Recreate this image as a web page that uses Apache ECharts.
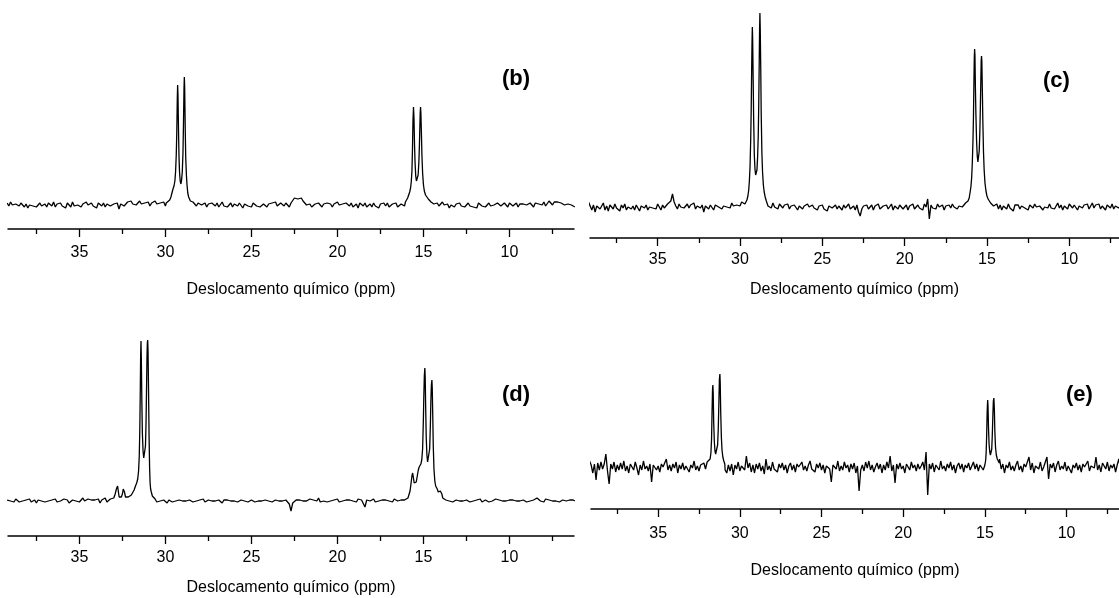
<!DOCTYPE html>
<html><head><meta charset="utf-8">
<script src="https://cdn.jsdelivr.net/npm/echarts@6/dist/echarts.min.js"></script>
<style>html,body{margin:0;padding:0;background:#fff}#c{width:1119px;height:598px}</style>
</head><body><div id="c"></div>
<script>
const FONT = 'Liberation Sans, Arial, Helvetica, sans-serif';
const majorTicks = [35, 30, 25, 20, 15, 10];
const minorTicks = [37.5, 32.5, 27.5, 22.5, 17.5, 12.5, 7.5];
const axisTitle = 'Deslocamento químico (ppm)';
const panelLabels = ['(b)', '(c)', '(d)', '(e)'];

// baseline noise sampled every 0.1 ppm from 39.2 down to 6.2 (intensity, arbitrary units)
const noiseStart = 39.2, noiseStep = 0.1;
const noiseB = [
 2,-1,3,0,-2,1,3,-1,2,0, -2,1,-3,0,2,-1,1,-2,0,2, -1,-3,1,-2,2,0,-1,3,-2,1, 0,2,-1,1,-3,2,0,-2,3,-1,
 1,0,2,-2,1,-1,3,0,-2,2, -1,1,-3,2,0,-1,2,-2,1,3, -1,-2,1,0,2,-4,1,2,-1,0, 3,2,4,1,3,0,2,4,1,3,
 2,1,3,-1,2,0,4,1,-1,2, 0,3,-1,2,1,2,3,5,8,12, 2,-1,1,0,2,-1,1,0,3,1, -1,2,3,0,-1,2,-2,1,0,2,
 1,-1,2,-2,0,3,-1,1,-2,0, 2,-2,1,0,-1,2,0,-3,1,-1, -1,1,-2,2,0,-1,1,-2,0,1, 0,-2,1,-1,2,0,3,-1,1,2,
 0,-1,2,1,-2,2,4,7,9,6, 5,7,4,2,0,-1,1,-2,0,1, -1,2,0,-2,1,-1,2,0,1,-2, 1,-1,3,0,-2,1,-1,2,0,-1,
 2,-2,0,1,-3,2,0,-1,2,-2, 0,1,-2,2,-1,0,-3,1,0,2, -1,2,-2,0,1,-1,2,-2,0,1, 1,-1,2,0,1,-1,2,0,1,0,
 1,0,2,-1,1,0,2,3,1,2, 2,-1,1,3,0,-2,1,-3,0,1, -2,1,0,2,-1,1,-2,0,2,-1, 1,-2,0,-3,2,0,-1,1,-2,0,
 2,-1,1,0,-2,2,0,-1,1,2, 0,-2,2,1,-1,0,2,-2,1,0, 1,3,0,-1,2,1,-2,2,0,1, 2,0,3,-1,1,4,2,0,3,1,
 3,1,2,4,0,2,1,3,0,2, -2];
const noiseC = [
 5,7,-3,2,-5,1,3,-2,0,4, -3,1,-4,2,0,-2,3,-1,1,-4, 2,-1,3,-3,0,2,-2,1,-3,2, 0,-4,1,3,-1,2,-3,0,2,-1,
 1,-2,3,0,-3,2,-1,0,3,1, 6,13,5,1,-2,3,0,2,-1,1, 3,-1,2,0,4,-2,1,3,-1,2, -5,1,3,-2,2,0,-3,2,4,0,
 2,-2,1,3,0,2,-1,4,1,3, 2,4,1,5,3,4,2,1,2,3, 1,0,-1,2,0,1,-1,2,-2,1, 3,-1,4,0,2,-2,3,1,-1,2,
 0,3,-2,1,-1,2,0,-3,1,2, -2,1,-1,3,0,-2,2,-1,1,-3, 1,-1,2,-2,0,-4,1,3,-1,0, 2,-2,1,0,-3,2,-1,1,3,-2,
 0,1,-3,2,-5,-9,-2,1,-1,2, -2,0,2,-3,1,-1,3,-2,0,1, -1,2,-2,0,3,-3,1,0,-2,2, 1,-2,0,2,-3,1,-1,3,-2,0,
 2,-1,1,-3,3,0,8,-12,2,-1, 1,-2,3,0,-1,2,-3,1,0,2, -1,3,0,2,-2,1,3,0,2,4, 3,5,2,1,0,2,1,0,1,2,
 1,0,2,1,0,2,1,-1,3,-2, 2,-3,1,0,-2,3,-1,1,-4,2, 0,2,-2,1,3,-1,0,-3,2,1, -1,3,0,-2,1,2,-3,0,2,-1,
 3,-1,1,-2,0,4,-1,2,-3,1, 0,-2,3,1,-1,2,0,-3,1,2, -1,2,0,3,-2,1,4,-1,2,0, 3,-2,1,0,-3,2,1,-1,3,-2,
 1,2,-1,0,3,-2,1,0,2,-1, 1];
const noiseD = [
 1,2,0,1,-1,2,0,-1,1,0, -1,1,0,2,-1,0,1,-2,1,0, 0,1,-1,1,0,-2,1,0,2,-1, 1,0,-1,2,0,1,-2,0,1,-1,
 0,2,-1,1,3,0,-1,2,0,1, -1,1,0,2,-2,1,0,3,-1,1, 2,0,1,0,1,0,1,0,1,0, 1,0,1,0,1,0,1,0,1,0,
 1,0,1,0,1,0,1,-1,1,0, -1,1,0,-2,1,0,-1,1,0,-1, 1,-1,0,2,0,-1,1,0,-1,1, 0,-1,1,0,2,-1,0,1,-1,0,
 1,0,-1,1,0,-2,1,0,1,-1, 0,1,0,2,-1,0,1,-1,0,1, -1,0,1,0,-1,1,0,2,0,-1, 1,3,0,1,-1,0,1,-1,0,1,
 0,-1,1,0,-3,-10,-2,0,1,0, 1,-1,0,1,0,-1,2,0,1,-1, 0,3,-1,1,0,2,-1,1,0,-1, 1,0,2,-1,1,0,-2,1,0,1,
 2,0,1,-1,2,0,1,-1,-6,1, 2,0,1,2,-1,1,0,2,1,0, 1,2,0,1,-1,2,1,0,2,1, 2,1,2,1,0,1,2,1,0,1,
 1,0,1,2,1,0,1,2,1,0, 1,2,1,0,1,1,-1,0,1,-1, 0,1,-1,0,2,0,-1,1,0,-1, 1,0,-1,1,0,2,-1,0,1,0,
 -1,1,0,-1,2,0,1,-1,0,1, 0,-1,1,0,1,-1,0,2,0,-1, 1,0,-1,1,0,2,1,0,3,1, 0,1,-1,2,0,1,-1,0,1,0,
 1,-1,0,1,2,0,-1,1,0,1, 0];
const noiseE = [
 6,2,-6,3,-13,4,-3,5,-2,3, 13,-4,-17,3,-2,5,-5,2,-3,4, -2,6,-4,1,-6,3,0,-3,5,-1, -8,2,-3,6,-2,1,-4,3,-15,2,
 4,-3,1,-5,3,0,-2,8,-3,2, -4,3,-1,5,-6,2,-2,4,-3,1, 3,-5,2,-1,6,-3,1,-4,2,0, 4,-2,5,1,0,1,0,1,0,1,
 0,1,0,-3,-6,2,-4,3,-8,2, -2,5,-4,1,3,-3,11,-1,4,-5, 2,-6,3,-2,4,-4,1,-7,8,-3, 1,-4,5,-2,0,-5,3,-1,4,-3,
 2,-6,1,4,-3,2,-5,3,0,-2, 5,-3,1,-4,2,6,-2,0,-5,3, -1,4,-3,2,-6,1,3,-2,-15,2, 4,-2,6,-4,1,-3,5,-1,2,-5,
 3,-2,4,-6,1,-24,-3,2,-4,5, -1,6,-3,2,-5,0,4,-2,3,-6, 2,-3,5,-1,11,-4,2,-16,3,-2, 4,-2,1,-6,3,0,-3,5,-1,2,
 -4,3,-2,1,5,-3,15,-28,3,-2, 4,-5,2,0,-3,6,-2,1,-4,3, -1,5,-3,2,-6,1,4,-2,3,-5, 2,-1,4,-3,1,5,-2,3,-4,2,
 1,-3,2,0,1,0,1,0,1,0, 0,8,-2,3,-6,2,-1,5,-3,1, -4,2,6,-3,1,-5,3,0,-2,10, -3,4,-6,1,3,-2,5,-4,0,2,
 10,-12,3,-1,4,-5,2,6,-3,1, -2,5,-4,1,3,-6,2,-1,4,-3, 2,-5,3,0,-2,6,-4,1,3,-1, 10,-3,2,-5,4,1,-2,5,-4,2,
 -1,3,-5,2,8,-2,4,-3,1,5, 2];

// resonance regions: [ppm, intensity], ordered from high to low ppm
const peaksB1 = [[29.95,2],[29.85,3],[29.75,5],[29.68,8],[29.62,12],[29.56,16],[29.50,19],[29.45,24],[29.41,33],[29.37,50],[29.34,72],[29.31,106],[29.29,120],[29.27,110],[29.24,76],[29.21,48],[29.18,33],[29.14,24],[29.10,21],[29.06,25],[29.02,33],[28.98,52],[28.95,81],[28.92,116],[28.90,128],[28.88,117],[28.85,78],[28.82,48],[28.78,30],[28.74,19],[28.70,12],[28.65,8],[28.60,6],[28.55,4],[28.50,3]];
const peaksB2 = [[16.05,3],[15.98,5],[15.92,7],[15.86,10],[15.80,13],[15.75,17],[15.71,23],[15.67,34],[15.64,55],[15.61,84],[15.58,98],[15.55,86],[15.52,60],[15.49,43],[15.45,29],[15.41,24],[15.38,25],[15.35,26],[15.31,30],[15.27,42],[15.24,57],[15.21,78],[15.19,92],[15.17,98],[15.15,92],[15.12,72],[15.09,50],[15.05,32],[15.00,20],[14.95,14],[14.88,10],[14.80,8],[14.72,6],[14.64,4],[14.56,3]];
const peaksC1 = [[29.70,3],[29.65,4],[29.58,7],[29.52,11],[29.47,17],[29.43,26],[29.39,40],[29.35,67],[29.32,96],[29.29,138],[29.27,164],[29.25,180],[29.23,167],[29.20,128],[29.17,88],[29.13,52],[29.09,38],[29.05,32],[29.01,31],[28.97,37],[28.93,50],[28.89,72],[28.86,104],[28.83,148],[28.81,178],[28.79,194],[28.77,178],[28.74,140],[28.71,92],[28.67,54],[28.63,35],[28.58,22],[28.53,15],[28.47,10],[28.40,6]];
const peaksC2 = [[16.15,6],[16.08,9],[16.02,15],[15.97,21],[15.93,29],[15.89,44],[15.85,66],[15.82,90],[15.79,127],[15.77,148],[15.75,158],[15.73,152],[15.70,118],[15.67,92],[15.63,66],[15.59,51],[15.55,45],[15.51,47],[15.47,56],[15.43,76],[15.40,100],[15.37,128],[15.35,146],[15.33,151],[15.31,146],[15.28,117],[15.25,86],[15.21,55],[15.17,37],[15.12,24],[15.06,16],[15.00,11],[14.93,8],[14.85,6],[14.78,4]];
const peaksD1 = [[33.10,1],[33.00,3],[32.92,7],[32.85,12],[32.78,15],[32.74,10],[32.69,4],[32.63,3],[32.56,4],[32.50,7],[32.45,12],[32.42,14],[32.38,9],[32.32,4],[32.25,3],[32.16,4],[32.06,5],[31.98,6],[31.90,8],[31.82,11],[31.74,15],[31.67,18],[31.61,22],[31.56,30],[31.52,45],[31.49,70],[31.46,112],[31.44,145],[31.42,160],[31.40,142],[31.37,100],[31.34,68],[31.30,50],[31.26,43],[31.23,41],[31.20,44],[31.16,55],[31.13,75],[31.10,108],[31.07,145],[31.05,158],[31.03,161],[31.01,150],[30.98,110],[30.95,65],[30.92,34],[30.89,18],[30.86,12],[30.82,9],[30.76,5],[30.68,3],[30.60,2]];
const peaksD2 = [[16.00,2],[15.90,3],[15.84,5],[15.78,10],[15.72,18],[15.67,25],[15.63,28],[15.59,24],[15.54,18],[15.48,16],[15.42,19],[15.36,25],[15.30,31],[15.25,34],[15.20,36],[15.15,37],[15.10,41],[15.05,52],[15.01,78],[14.98,104],[14.95,125],[14.92,133],[14.90,124],[14.87,92],[14.84,64],[14.80,46],[14.76,39],[14.72,37],[14.68,40],[14.64,52],[14.60,75],[14.57,100],[14.54,116],[14.51,121],[14.49,113],[14.46,85],[14.43,55],[14.39,32],[14.34,20],[14.29,15],[14.25,14],[14.20,12],[14.14,9],[14.08,8],[14.02,10],[13.97,11],[13.93,7],[13.88,3],[13.80,1]];
const peaksE1 = [[31.95,3],[31.88,5],[31.82,8],[31.77,14],[31.73,28],[31.70,55],[31.67,78],[31.65,82],[31.63,74],[31.60,45],[31.56,25],[31.52,16],[31.48,13],[31.44,12],[31.40,15],[31.36,22],[31.32,38],[31.28,66],[31.25,88],[31.22,93],[31.20,84],[31.17,55],[31.13,30],[31.09,17],[31.04,10],[30.98,6],[30.92,3]];
const peaksE2 = [[14.98,3],[14.95,7],[14.92,15],[14.89,32],[14.86,55],[14.83,67],[14.81,62],[14.78,40],[14.74,22],[14.70,15],[14.66,12],[14.62,13],[14.58,18],[14.55,30],[14.51,52],[14.48,66],[14.45,69],[14.42,58],[14.39,36],[14.35,20],[14.30,12],[14.24,8],[14.18,6],[14.12,4]];

function buildSpectrum(noise, clusters) {
  const pts = [];
  noise.forEach((v, i) => {
    const x = +(noiseStart - i * noiseStep).toFixed(2);
    const inside = clusters.some(c => x <= c[0][0] && x >= c[c.length - 1][0]);
    if (!inside) pts.push([x, v]);
  });
  clusters.forEach(c => c.forEach(p => pts.push(p)));
  pts.sort((a, b) => b[0] - a[0]);
  return pts;
}

const spectra = [
  buildSpectrum(noiseB, [peaksB1, peaksB2]),
  buildSpectrum(noiseC, [peaksC1, peaksC2]),
  buildSpectrum(noiseD, [peaksD1, peaksD2]),
  buildSpectrum(noiseE, [peaksE1, peaksE2])
];

// layout per panel
const layout = [
  {grid: {left: 8, width: 566, top: 60, height: 169}, x: [6.25, 39.15], y: [-24, 145], margin: 16, nameGap: 53, lab: [502, 68]},
  {grid: {left: 590, width: 529, top: 0, height: 238}, x: [6.98, 39.11], y: [-31, 207], margin: 14, nameGap: 44, lab: [1043, 70]},
  {grid: {left: 8, width: 566, top: 300, height: 236}, x: [6.25, 39.15], y: [-35, 201], margin: 14, nameGap: 44, lab: [502, 384]},
  {grid: {left: 591, width: 528, top: 300, height: 209}, x: [6.79, 39.11], y: [-42, 167], margin: 17, nameGap: 54, lab: [1066, 384]}
];

const grids = [], xAxes = [], yAxes = [], series = [], titles = [];
layout.forEach((L, i) => {
  grids.push(Object.assign({containLabel: false}, L.grid));
  xAxes.push({
    type: 'value', gridIndex: i, position: 'bottom', inverse: true, min: L.x[0], max: L.x[1],
    axisLine: {show: true, onZero: false, lineStyle: {color: '#000', width: 1.5}},
    axisTick: {show: true, inside: false, length: 8, customValues: majorTicks, lineStyle: {color: '#000', width: 1.3}},
    axisLabel: {show: true, customValues: majorTicks, margin: L.margin, color: '#000', fontSize: 16, fontFamily: FONT},
    splitLine: {show: false},
    name: axisTitle, nameLocation: 'middle', nameGap: L.nameGap,
    nameTextStyle: {color: '#000', fontSize: 16, fontFamily: FONT}
  });
  xAxes.push({
    type: 'value', gridIndex: i, position: 'bottom', inverse: true, min: L.x[0], max: L.x[1],
    axisLine: {show: false, onZero: false},
    axisTick: {show: true, inside: false, length: 5, customValues: minorTicks, lineStyle: {color: '#000', width: 1.3}},
    axisLabel: {show: false}, splitLine: {show: false}
  });
  yAxes.push({type: 'value', gridIndex: i, min: L.y[0], max: L.y[1], show: false, splitLine: {show: false}});
  series.push({
    type: 'line', xAxisIndex: 2 * i, yAxisIndex: i, data: spectra[i], showSymbol: false, symbol: 'none',
    lineStyle: {color: '#000', width: 1.3}, clip: true, animation: false
  });
  titles.push({
    text: panelLabels[i], left: L.lab[0], top: L.lab[1], padding: 0,
    textStyle: {color: '#000', fontSize: 22, fontWeight: 'bold', fontFamily: FONT}
  });
});

const chart = echarts.init(document.getElementById('c'), null, {renderer: 'canvas'});
chart.setOption({
  animation: false, backgroundColor: '#fff',
  title: titles, grid: grids, xAxis: xAxes, yAxis: yAxes, series: series
});
</script></body></html>
